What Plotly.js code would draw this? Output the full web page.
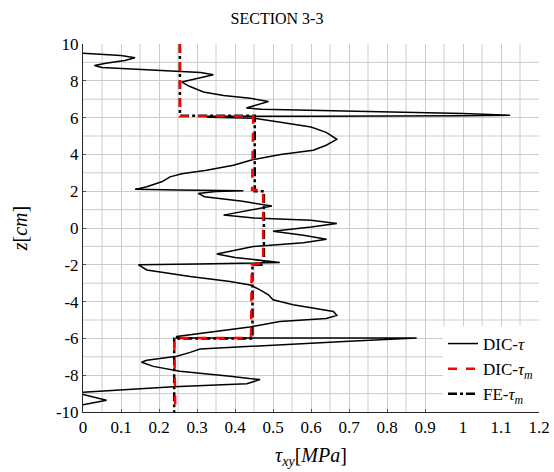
<!DOCTYPE html>
<html>
<head>
<meta charset="utf-8">
<script src="https://cdn.plot.ly/plotly-3.0.1.min.js"></script>
<style>html,body{margin:0;padding:0;background:#fff;}#chart{width:554px;height:472px;}</style>
</head>
<body>
<div id="chart"></div>
<script>
// DIC-tau measured profile (tau_xy in MPa vs z in cm)
const dicTauX = [-0.02,0.0,0.06,0.10,0.137,0.11,0.06,0.03,0.05,0.15,0.255,0.31,0.343,0.30,0.26,0.28,0.317,0.37,0.44,0.488,0.46,0.43,0.47,0.6,0.8,1.0,1.124,1.0,0.6,0.317,0.33,0.45,0.52,0.6,0.64,0.668,0.64,0.606,0.52,0.448,0.396,0.325,0.26,0.229,0.215,0.207,0.168,0.137,0.25,0.422,0.35,0.303,0.32,0.42,0.497,0.43,0.37,0.45,0.6,0.668,0.6,0.50,0.58,0.641,0.58,0.448,0.378,0.352,0.40,0.518,0.30,0.146,0.168,0.22,0.282,0.387,0.44,0.466,0.488,0.50,0.553,0.659,0.668,0.64,0.518,0.439,0.30,0.247,0.245,0.5,0.878,0.7,0.518,0.308,0.282,0.247,0.168,0.154,0.185,0.255,0.387,0.466,0.431,0.238,0.0,-0.05,0.0,0.062,0.0,-0.03];
const dicTauZ = [9.52,9.5,9.45,9.38,9.25,9.1,8.95,8.83,8.72,8.63,8.53,8.45,8.33,8.12,7.93,7.7,7.39,7.2,7.05,6.88,6.7,6.52,6.45,6.4,6.33,6.22,6.13,6.1,6.07,6.08,6.02,5.96,5.75,5.49,5.2,4.82,4.5,4.23,4.0,3.72,3.41,3.14,2.95,2.78,2.6,2.51,2.24,2.1,2.06,2.03,1.98,1.88,1.7,1.45,1.19,0.95,0.70,0.55,0.42,0.25,0.05,-0.18,-0.4,-0.61,-0.8,-1.01,-1.28,-1.41,-1.6,-1.88,-1.95,-2.0,-2.28,-2.45,-2.64,-2.91,-3.1,-3.36,-3.63,-3.9,-4.17,-4.54,-4.75,-4.92,-5.08,-5.38,-5.75,-5.9,-5.98,-5.98,-5.98,-6.15,-6.34,-6.58,-6.76,-6.97,-7.19,-7.30,-7.52,-7.79,-8.06,-8.24,-8.46,-8.63,-8.93,-9.0,-9.05,-9.36,-9.6,-9.65];

// DIC-tau_m (segment means)
const dicMeanX = [0.255,0.255,0.448,0.445,0.474,0.474,0.444,0.442,0.240,0.243];
const dicMeanZ = [10,6.08,6.08,2.06,2.06,-1.88,-2.0,-5.98,-5.98,-10];

// FE-tau_m
const feMeanX = [0.255,0.255,0.452,0.452,0.476,0.476,0.446,0.446,0.240,0.240];
const feMeanZ = [10,6.1,6.1,2.0,2.0,-2.0,-2.0,-6.0,-6.0,-10];

// Tick labels and in-between grid positions
const xTickVals = [0,0.1,0.2,0.3,0.4,0.5,0.6,0.7,0.8,0.9,1,1.1,1.2];
const xTickText = ["0","0.1","0.2","0.3","0.4","0.5","0.6","0.7","0.8","0.9","1","1.1","1.2"];
const yTickVals = [-10,-8,-6,-4,-2,0,2,4,6,8,10];
const yTickText = ["-10","-8","-6","-4","-2","0","2","4","6","8","10"];
const xMinorGrid = [0.05,0.15,0.25,0.35,0.45,0.55,0.65,0.75,0.85,0.95,1.05,1.15];
const yMinorGrid = [-9,-7,-5,-3,-1,1,3,5,7,9];

const serif = "Liberation Serif";
const gridCol = "#cccccc";

const minorShapes = xMinorGrid.map(function(v){
  return {type: "line", xref: "x", yref: "paper", x0: v, x1: v, y0: 0, y1: 1,
          layer: "below", line: {color: gridCol, width: 1}};
}).concat(yMinorGrid.map(function(v){
  return {type: "line", xref: "paper", yref: "y", x0: 0, x1: 1, y0: v, y1: v,
          layer: "below", line: {color: gridCol, width: 1}};
}));

const traces = [
  {x: dicTauX, y: dicTauZ, mode: "lines", name: "DIC-<i>τ</i>", legendrank: 1,
   line: {color: "#000000", width: 1.5}},
  {x: feMeanX, y: feMeanZ, mode: "lines", name: "FE-<i>τ</i><sub><i>m</i></sub>", legendrank: 3,
   line: {color: "#000000", width: 2.5, dash: "dashdot"}},
  {x: dicMeanX, y: dicMeanZ, mode: "lines", name: "DIC-<i>τ</i><sub><i>m</i></sub>", legendrank: 2,
   line: {color: "#ff0000", width: 2.5, dash: "dash"}}
];

const tickFont = {family: serif, size: 17, color: "#000000"};

const layout = {
  width: 554, height: 472,
  margin: {l: 83, r: 15, t: 44, b: 60},
  font: {family: serif, size: 17, color: "#000"},
  showlegend: false,
  shapes: minorShapes,
  xaxis: {
    range: [0, 1.2], tickvals: xTickVals, ticktext: xTickText,
    showgrid: true, gridcolor: gridCol,
    ticks: "inside", ticklen: 3, tickcolor: "#555555",
    tickfont: tickFont
  },
  yaxis: {
    range: [-10, 10], tickvals: yTickVals, ticktext: yTickText,
    showgrid: true, gridcolor: gridCol,
    ticks: "inside", ticklen: 3, tickcolor: "#555555",
    tickfont: tickFont
  }
};

const gd = document.getElementById("chart");
Plotly.newPlot(gd, traces, layout, {displayModeBar: false})
.then(function(){ return Plotly.relayout(gd, {
  'xaxis.showline': true, 'xaxis.linecolor': '#262626', 'xaxis.zeroline': false,
  'yaxis.showline': true, 'yaxis.linecolor': '#262626', 'yaxis.zeroline': false}); })
.then(function(){ return Plotly.relayout(gd, {
  'title': {text: "SECTION 3-3", font: {family: serif, size: 16, color: "#000"}, x: 0.5, y: 0.962, yanchor: 'middle'}}); })
.then(function(){ return Plotly.relayout(gd, {
  'xaxis.title': {text: "<i>τ</i><sub><i>xy</i></sub>[<i>MPa</i>]", font: {family: serif, size: 20}, standoff: 11},
  'yaxis.title': {text: "<i>z</i>[<i>cm</i>]", font: {family: serif, size: 20}, standoff: 22}}); })
.then(function(){ return Plotly.relayout(gd, {
  'showlegend': true,
  'legend': {x: 1, y: 0, xanchor: 'right', yanchor: 'bottom', bgcolor: '#ffffff', borderwidth: 0,
             font: {family: serif, size: 17, color: '#000'}}}); })
.then(function(){ return Plotly.relayout(gd, {
  'xaxis.tickfont': tickFont, 'yaxis.tickfont': tickFont}); })
.catch(function(){});
</script>
</body>
</html>
